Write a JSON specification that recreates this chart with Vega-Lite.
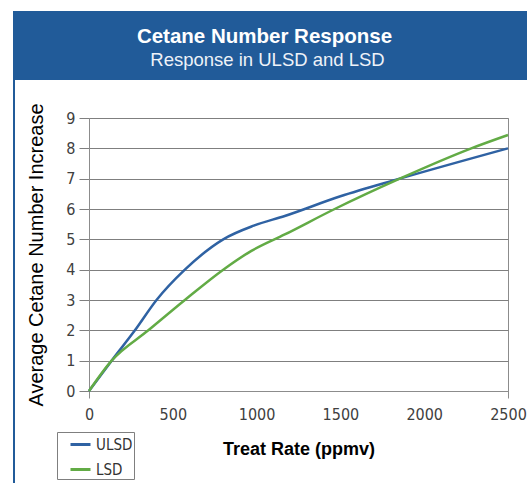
{
  "$schema": "https://vega.github.io/schema/vega-lite/v6.json",
  "padding": {"left": 11, "top": 11, "right": 0, "bottom": 0},
  "autosize": {"type": "pad"},
  "background": "white",
  "spacing": 0,
  "config": {
    "view": {"stroke": null},
    "font": "Liberation Sans",
    "axis": {
      "labelFont": "DejaVu Sans Condensed, sans-serif",
      "titleFont": "Liberation Sans, Arial, sans-serif"
    },
    "legend": {"labelFont": "DejaVu Sans Condensed, sans-serif"}
  },
  "datasets": {
    "header": [
      {"line": "Cetane Number Response", "part": "title"},
      {"line": "Response in ULSD and LSD", "part": "subtitle"}
    ],
    "curves": [
      {"fuel": "ULSD", "rate": 0, "value": 0},
      {"fuel": "ULSD", "rate": 135, "value": 1.0},
      {"fuel": "ULSD", "rate": 274, "value": 2.0},
      {"fuel": "ULSD", "rate": 403, "value": 3.0},
      {"fuel": "ULSD", "rate": 572, "value": 4.0},
      {"fuel": "ULSD", "rate": 801, "value": 5.0},
      {"fuel": "ULSD", "rate": 983, "value": 5.45},
      {"fuel": "ULSD", "rate": 1168, "value": 5.77},
      {"fuel": "ULSD", "rate": 1500, "value": 6.42},
      {"fuel": "ULSD", "rate": 1854, "value": 7.0},
      {"fuel": "ULSD", "rate": 2500, "value": 8.0},
      {"fuel": "LSD", "rate": 0, "value": 0},
      {"fuel": "LSD", "rate": 135, "value": 1.0},
      {"fuel": "LSD", "rate": 354, "value": 2.0},
      {"fuel": "LSD", "rate": 572, "value": 3.0},
      {"fuel": "LSD", "rate": 801, "value": 4.0},
      {"fuel": "LSD", "rate": 969, "value": 4.62},
      {"fuel": "LSD", "rate": 1168, "value": 5.16},
      {"fuel": "LSD", "rate": 1466, "value": 6.0},
      {"fuel": "LSD", "rate": 1854, "value": 7.0},
      {"fuel": "LSD", "rate": 2281, "value": 8.0},
      {"fuel": "LSD", "rate": 2500, "value": 8.44}
    ]
  },
  "vconcat": [
    {
      "width": 516,
      "height": 69,
      "view": {"fill": "#215b99", "stroke": null},
      "data": {"name": "header"},
      "encoding": {
        "y": {
          "field": "part",
          "type": "nominal",
          "axis": null,
          "sort": ["title", "subtitle"],
          "scale": {"type": "point", "padding": 1.09, "align": 0.704}
        },
        "text": {"field": "line"}
      },
      "layer": [
        {
          "transform": [{"filter": "datum.part === 'title'"}],
          "mark": {"type": "text", "baseline": "alphabetic", "fontSize": 20.5, "fontWeight": "bold", "color": "#ffffff", "dx": -6.5, "font": "Liberation Sans, Arial, sans-serif"}
        },
        {
          "transform": [{"filter": "datum.part === 'subtitle'"}],
          "mark": {"type": "text", "baseline": "alphabetic", "fontSize": 18.5, "fontWeight": "normal", "color": "#eef2f8", "dx": -3.5, "font": "Liberation Sans, Arial, sans-serif"}
        }
      ]
    },
    {
      "spacing": 9,
      "hconcat": [
        {
          "width": 2,
          "height": 403,
          "view": {"fill": "#215b99", "stroke": null},
          "data": {"name": "header"},
          "mark": {"type": "point", "opacity": 0},
          "encoding": {}
        },
        {
          "spacing": 0,
          "vconcat": [
            {
              "width": 419,
              "height": 22,
              "data": {"name": "header"},
              "mark": {"type": "point", "opacity": 0},
              "encoding": {}
            },
            {
              "width": 419,
              "height": 273,
              "data": {"name": "curves"},
              "view": {"stroke": "#8c8c8c", "strokeWidth": 1},
              "mark": {"type": "line", "interpolate": "monotone", "strokeWidth": 2.5},
              "encoding": {
                "x": {
                  "field": "rate",
                  "type": "quantitative",
                  "scale": {"domain": [0, 2500], "nice": false},
                  "axis": {
                    "values": [0, 500, 1000, 1500, 2000, 2500],
                    "format": "d",
                    "title": "Treat Rate (ppmv)",
                    "grid": false,
                    "domainColor": "#8c8c8c",
                    "tickColor": "#8c8c8c",
                    "tickSize": 7,
                    "tickOpacity": {"condition": {"test": "datum.value == 0 || datum.value == 2500", "value": 1}, "value": 0},
                    "labelPadding": 8,
                    "labelFlush": false,
                    "labelFontSize": 16,
                    "labelColor": "#404040",
                    "titleFontSize": 18,
                    "titleFontWeight": "bold",
                    "titleColor": "#000000",
                    "titlePadding": 18
                  }
                },
                "y": {
                  "field": "value",
                  "type": "quantitative",
                  "scale": {"domain": [0, 9], "nice": false},
                  "axis": {
                    "values": [0, 1, 2, 3, 4, 5, 6, 7, 8, 9],
                    "title": "Average Cetane Number Increase",
                    "grid": true,
                    "gridColor": "#7f7f7f",
                    "gridOpacity": 1,
                    "domainColor": "#8c8c8c",
                    "tickColor": "#7f7f7f",
                    "tickSize": 10,
                    "labelPadding": 4,
                    "labelFontSize": 16,
                    "labelColor": "#404040",
                    "titleFontSize": 20,
                    "titleFontWeight": "normal",
                    "titleColor": "#000000",
                    "titlePadding": 19
                  }
                },
                "color": {
                  "field": "fuel",
                  "type": "nominal",
                  "scale": {"domain": ["ULSD", "LSD"], "range": ["#2f62a3", "#62ab45"]},
                  "legend": {
                    "title": null,
                    "orient": "none",
                    "legendX": 44,
                    "legendY": 421,
                    "strokeColor": "#7f7f7f",
                    "fillColor": "#ffffff",
                    "padding": 1,
                    "symbolOffset": 11,
                    "symbolType": "stroke",
                    "symbolStrokeWidth": 3,
                    "symbolSize": 400,
                    "labelFontSize": 15,
                    "labelColor": "#333333",
                    "rowPadding": 5
                  }
                }
              }
            }
          ]
        }
      ]
    }
  ]
}
